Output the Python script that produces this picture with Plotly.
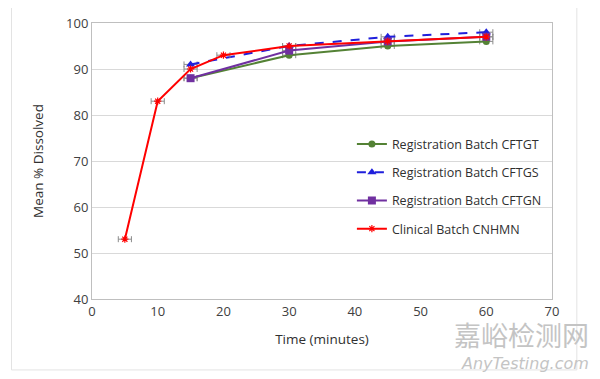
import plotly.graph_objects as go

time_red = [5, 10, 15, 20, 30, 45, 60]
clinical_cnhmn = [53, 83, 90, 93, 95, 96, 97]

time_reg = [15, 30, 45, 60]
reg_cftgt = [88, 93, 95, 96]
reg_cftgs = [91, 95, 97, 98]
reg_cftgn = [88, 94, 96, 97]

x_err = 1.0

series = [
    ("Registration Batch CFTGT", time_reg, reg_cftgt, "#548235", "circle", "solid", 7),
    ("Registration Batch CFTGS", time_reg, reg_cftgs, "#1f1fdc", "triangle-up", "dash", 8),
    ("Registration Batch CFTGN", time_reg, reg_cftgn, "#7030a0", "square", "solid", 8),
    ("Clinical Batch CNHMN", time_red, clinical_cnhmn, "#ff0000", "asterisk", "solid", 6),
]

fig = go.Figure()
for i, (name, xs, ys, col, sym, dash, ms) in enumerate(series):
    marker = dict(color=col, symbol=sym, size=ms)
    if sym == "asterisk":
        marker["line"] = dict(color=col, width=1.2)
    fig.add_trace(go.Scatter(
        x=xs, y=ys, name=name, mode="lines+markers",
        line=dict(color=col, width=2, dash=dash),
        marker=marker,
        error_x=dict(type="constant", value=x_err, color="#8c8c8c", thickness=1, width=3),
        legendgroup=str(i),
    ))

fig.update_layout(
    width=592, height=371,
    margin=dict(l=84, r=48, t=15, b=80, autoexpand=False),
    paper_bgcolor="white", plot_bgcolor="white",
    font=dict(family="Open Sans", size=13, color="#404040"),
    showlegend=True,
    legend=dict(x=0.565, y=0.615, xanchor="left", yanchor="top",
                bgcolor="rgba(0,0,0,0)", font=dict(size=12.5, color="#303030"),
                tracegroupgap=9, itemwidth=30),
    xaxis=dict(range=[0, 70], tickvals=[0, 10, 20, 30, 40, 50, 60, 70],
               showgrid=False, zeroline=False, showline=True, linecolor="#bfbfbf",
               linewidth=1, mirror=True, ticks="", ticklen=0, automargin=False,
               title=dict(text="Time (minutes)", font=dict(size=13.5, color="#303030"), standoff=15)),
    yaxis=dict(range=[40, 100], tickvals=[40, 50, 60, 70, 80, 90, 100],
               showgrid=True, gridcolor="#d9d9d9", gridwidth=1, zeroline=False,
               showline=True, linecolor="#bfbfbf", linewidth=1, mirror=True, ticks="",
               automargin=False,
               title=dict(text="Mean % Dissolved", font=dict(size=13.5, color="#303030"), standoff=19)),
)

# outer chart frame
for x0, y0, x1, y1 in [(-0.175, -0.257, -0.175, 1.1), (-0.175, -0.257, 1.054, -0.257), (1.054, -0.257, 1.054, 1.1)]:
    fig.add_shape(type="line", xref="paper", yref="paper", x0=x0, y0=y0, x1=x1, y1=y1,
                  line=dict(color="#e3e3e3", width=1))

# watermark
fig.add_annotation(text="嘉峪检测网", xref="paper", yref="paper", x=1.085, y=-0.13,
                   xanchor="right", yanchor="middle", showarrow=False,
                   font=dict(family="Noto Sans CJK SC", size=27, color="#c4c4c4"))
fig.add_annotation(text="<i>AnyTesting.com</i>", xref="paper", yref="paper", x=1.085, y=-0.235,
                   xanchor="right", yanchor="middle", showarrow=False,
                   font=dict(family="DejaVu Sans", size=16, color="#c4c4c4"))

fig.write_html("out.html")
